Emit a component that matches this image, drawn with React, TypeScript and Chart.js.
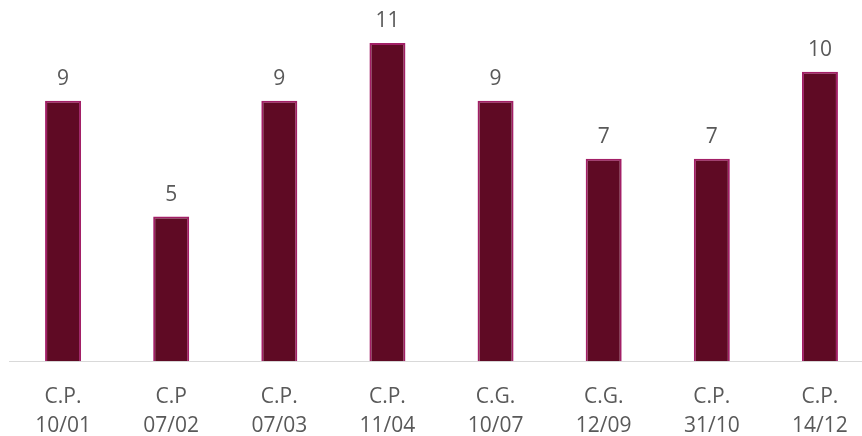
import React, { useEffect, useRef } from "react";
import { Chart, registerables } from "chart.js";

Chart.register(...registerables);

const categories: string[][] = [
  ["C.P.", "10/01"],
  ["C.P", "07/02"],
  ["C.P.", "07/03"],
  ["C.P.", "11/04"],
  ["C.G.", "10/07"],
  ["C.G.", "12/09"],
  ["C.P.", "31/10"],
  ["C.P.", "14/12"],
];
const values: number[] = [9, 5, 9, 11, 9, 7, 7, 10];

const FONT = "'Open Sans', 'Liberation Sans', sans-serif";
const TEXT = "#595959";

const valueLabels = {
  id: "valueLabels",
  afterDatasetsDraw(chart: any) {
    const ctx = chart.ctx;
    const meta = chart.getDatasetMeta(0);
    ctx.save();
    ctx.font = `21px ${FONT}`;
    ctx.fillStyle = TEXT;
    ctx.textAlign = "center";
    ctx.textBaseline = "bottom";
    meta.data.forEach((bar: any, i: number) => {
      ctx.fillText(String(values[i]), bar.x, bar.y - 11);
    });
    ctx.restore();
  },
};

export default function App() {
  const ref = useRef<HTMLCanvasElement | null>(null);
  useEffect(() => {
    if (!ref.current) return;
    const chart = new Chart(ref.current, {
      type: "bar",
      data: {
        labels: categories,
        datasets: [
          {
            data: values,
            backgroundColor: "#5F0A24",
            borderColor: "#A21F66",
            borderWidth: 2,
            barPercentage: 0.333,
            categoryPercentage: 1,
          },
        ],
      },
      options: {
        animation: false,
        responsive: true,
        maintainAspectRatio: false,
        layout: { padding: { left: 9, right: 1, top: 14, bottom: 0 } },
        plugins: { legend: { display: false }, tooltip: { enabled: false } },
        scales: {
          x: {
            grid: { display: false, drawTicks: false },
            border: { display: true, color: "#D9D9D9", width: 1 },
            ticks: {
              color: TEXT,
              font: { family: FONT, size: 21, lineHeight: 1.4 },
              padding: 21,
              maxRotation: 0,
              autoSkip: false,
            },
          },
          y: { display: false, min: 0, max: 12 },
        },
      },
      plugins: [valueLabels],
    });
    return () => chart.destroy();
  }, []);
  return (
    <div style={{ position: "fixed", left: 0, top: 0, width: 862, height: 436, overflow: "hidden", background: "#fff" }}>
      <div style={{ position: "relative", width: 875, height: 462 }}>
        <canvas ref={ref} />
      </div>
    </div>
  );
}
